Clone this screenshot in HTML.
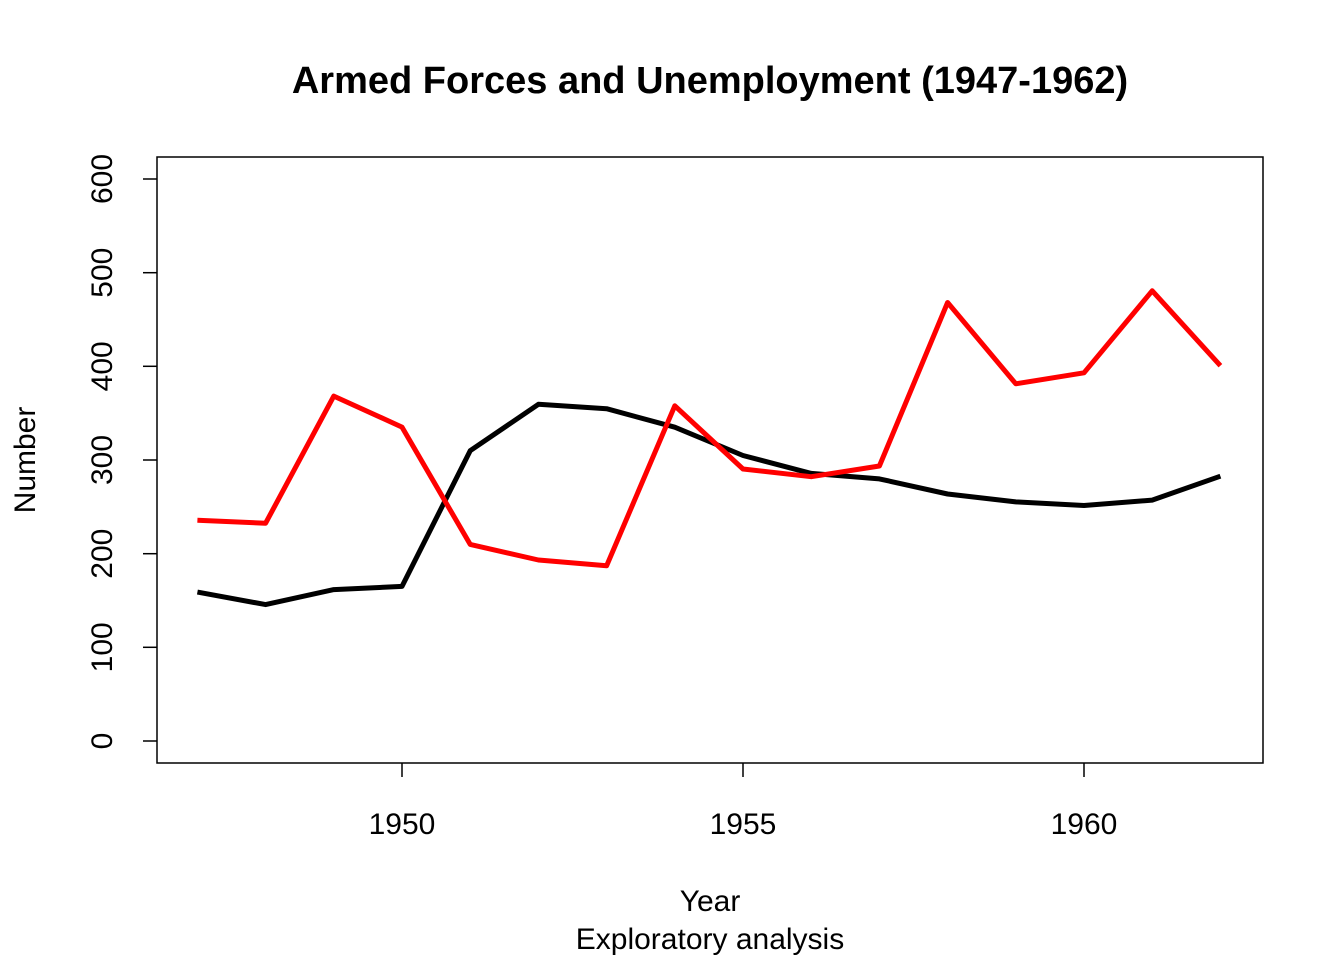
<!DOCTYPE html>
<html><head><meta charset="utf-8"><style>
html,body{margin:0;padding:0;background:#fff;}
svg{display:block;font-family:"Liberation Sans",Arial,sans-serif;}
</style></head><body>
<svg width="1344" height="960" viewBox="0 0 1344 960" xmlns="http://www.w3.org/2000/svg">
<rect width="1344" height="960" fill="#fff"/>
<text x="710" y="93" text-anchor="middle" font-size="38" font-weight="bold">Armed Forces and Unemployment (1947-1962)</text>
<rect x="157" y="157" width="1106" height="606" fill="none" stroke="#000" stroke-width="1.5"/>
<g stroke="#000" stroke-width="1.5">
<line x1="143" y1="741" x2="157" y2="741"/><line x1="143" y1="647.3" x2="157" y2="647.3"/>
<line x1="143" y1="553.7" x2="157" y2="553.7"/><line x1="143" y1="460" x2="157" y2="460"/>
<line x1="143" y1="366.3" x2="157" y2="366.3"/><line x1="143" y1="272.7" x2="157" y2="272.7"/>
<line x1="143" y1="179" x2="157" y2="179"/>
<line x1="402" y1="763" x2="402" y2="777"/><line x1="743" y1="763" x2="743" y2="777"/>
<line x1="1084" y1="763" x2="1084" y2="777"/>
</g>
<g font-size="30" text-anchor="middle">
<text transform="translate(112,741) rotate(-90)">0</text>
<text transform="translate(112,647.3) rotate(-90)">100</text>
<text transform="translate(112,553.7) rotate(-90)">200</text>
<text transform="translate(112,460) rotate(-90)">300</text>
<text transform="translate(112,366.3) rotate(-90)">400</text>
<text transform="translate(112,272.7) rotate(-90)">500</text>
<text transform="translate(112,179) rotate(-90)">600</text>
<text x="402" y="834">1950</text><text x="743" y="834">1955</text><text x="1084" y="834">1960</text>
<text x="710" y="911">Year</text>
<text x="710" y="949">Exploratory analysis</text>
<text transform="translate(35,460) rotate(-90)">Number</text>
</g>
<polyline fill="none" stroke="#000" stroke-width="5" stroke-linejoin="round" points="197.4,592.1 265.6,604.6 333.8,589.6 402,586.4 470.2,450.7 538.4,404.3 606.6,408.7 674.8,427.2 743,455.5 811.2,473.4 879.4,478.9 947.6,494 1015.8,501.9 1084,505.5 1152.2,500.1 1220.4,476.2"/>
<polyline fill="none" stroke="#ff0000" stroke-width="5" stroke-linejoin="round" points="197.4,520.3 265.6,523.2 333.8,396.1 402,427.1 470.2,544.4 538.4,560 606.6,565.8 674.8,405.8 743,469 811.2,476.7 879.4,466 947.6,302.5 1015.8,383.8 1084,372.8 1152.2,290.8 1220.4,365.7"/>
</svg>
</body></html>
